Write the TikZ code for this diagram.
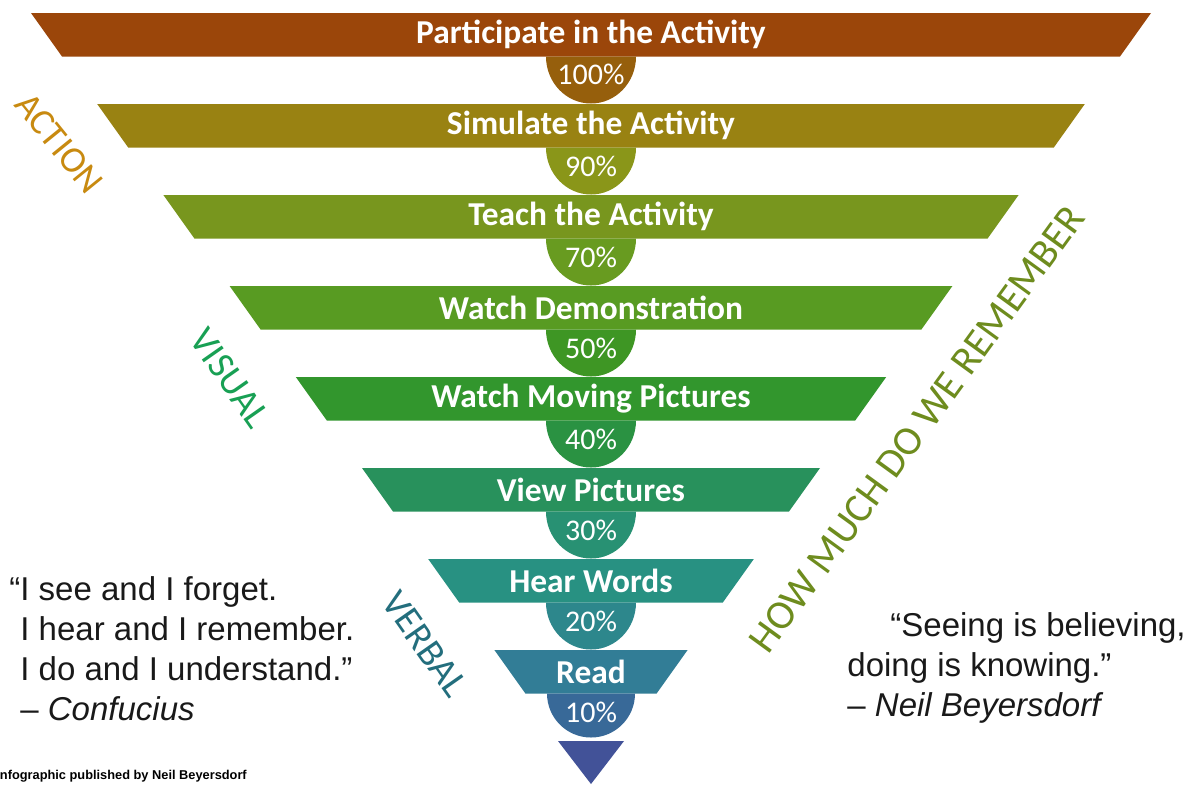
\documentclass[tikz,border=0pt]{standalone}
\usepackage{fontspec}
\setmainfont{Carlito}
\newfontfamily\quotefont{Liberation Sans}
\usetikzlibrary{positioning}

% colours of the levels, top to bottom
\definecolor{lvlA}{RGB}{155,70,10}
\definecolor{pctA}{RGB}{150,95,12}
\definecolor{lvlB}{RGB}{153,130,18}
\definecolor{pctB}{RGB}{138,150,25}
\definecolor{lvlC}{RGB}{120,150,30}
\definecolor{pctC}{RGB}{104,155,32}
\definecolor{lvlD}{RGB}{88,155,34}
\definecolor{pctD}{RGB}{62,150,36}
\definecolor{lvlE}{RGB}{50,150,45}
\definecolor{pctE}{RGB}{42,146,66}
\definecolor{lvlF}{RGB}{40,145,92}
\definecolor{pctF}{RGB}{40,145,115}
\definecolor{lvlG}{RGB}{40,145,130}
\definecolor{pctG}{RGB}{45,135,140}
\definecolor{lvlH}{RGB}{50,125,150}
\definecolor{pctH}{RGB}{56,105,152}
\definecolor{tipcol}{RGB}{66,82,152}
\definecolor{actioncol}{RGB}{200,138,16}
\definecolor{visualcol}{RGB}{24,160,84}
\definecolor{verbalcol}{RGB}{35,110,125}
\definecolor{howcol}{RGB}{110,140,30}

\tikzstyle{steptext} = [text=white, font=\bfseries\fontsize{16.7}{18}\selectfont]
\tikzstyle{pcttext} = [text=white, font=\fontsize{15}{17}\selectfont]
\tikzstyle{sidelabel} = [font=\fontsize{19}{22}\selectfont]
\tikzstyle{quotebox} = [font=\quotefont\fontsize{16.5}{20}\selectfont, align=left, inner sep=0pt, text=black!90]

\begin{document}
\begin{tikzpicture}[x=0.5pt, y=-0.5pt]

	% page
	\fill[white] (0,0) rectangle (1192,784);
	\useasboundingbox (0,0) rectangle (1192,784);

	% Participate in the Activity
	\fill[lvlA] (31,13) -- (1151,13) -- (1120,56.5) -- (62,56.5) -- cycle;
	\fill[pctA] (546,56.5) arc[start angle=180, end angle=0, x radius=45, y radius=47] -- cycle;
	\node[steptext] (participate) at (591,34.75) {Participate in the Activity};
	\node[pcttext] (p100) at (591,74.5) {100\%};

	% Simulate the Activity
	\fill[lvlB] (97.2,104) -- (1084.8,104) -- (1053.8,147.5) -- (128.2,147.5) -- cycle;
	\fill[pctB] (546,147.5) arc[start angle=180, end angle=0, x radius=45, y radius=47] -- cycle;
	\node[steptext] (simulate) at (591,125.75) {Simulate the Activity};
	\node[pcttext] (p90) at (591,166.5) {90\%};

	% Teach the Activity
	\fill[lvlC] (163.4,195) -- (1018.6,195) -- (987.6,238.5) -- (194.4,238.5) -- cycle;
	\fill[pctC] (546,238.5) arc[start angle=180, end angle=0, x radius=45, y radius=47] -- cycle;
	\node[steptext] (teach) at (591,216.75) {Teach the Activity};
	\node[pcttext] (p70) at (591,257.5) {70\%};

	% Watch Demonstration
	\fill[lvlD] (229.6,286) -- (952.4,286) -- (921.4,329.5) -- (260.6,329.5) -- cycle;
	\fill[pctD] (546,329.5) arc[start angle=180, end angle=0, x radius=45, y radius=47] -- cycle;
	\node[steptext] (demo) at (591,307.75) {Watch Demonstration};
	\node[pcttext] (p50) at (591,348.5) {50\%};

	% Watch Moving Pictures
	\fill[lvlE] (295.8,377) -- (886.2,377) -- (855.2,420.5) -- (326.8,420.5) -- cycle;
	\fill[pctE] (546,420.5) arc[start angle=180, end angle=0, x radius=45, y radius=47] -- cycle;
	\node[steptext] (moving) at (591,398.75) {Watch Moving Pictures};
	\node[pcttext] (p40) at (591,439.5) {40\%};

	% View Pictures
	\fill[lvlF] (362,468) -- (820,468) -- (789,511.5) -- (393,511.5) -- cycle;
	\fill[pctF] (546,511.5) arc[start angle=180, end angle=0, x radius=45, y radius=47] -- cycle;
	\node[steptext] (view) at (591,489.75) {View Pictures};
	\node[pcttext] (p30) at (591,530.5) {30\%};

	% Hear Words
	\fill[lvlG] (428.2,559) -- (753.8,559) -- (722.8,602.5) -- (459.2,602.5) -- cycle;
	\fill[pctG] (546,602.5) arc[start angle=180, end angle=0, x radius=45, y radius=47] -- cycle;
	\node[steptext] (hear) at (591,580.75) {Hear Words};
	\node[pcttext] (p20) at (591,621.5) {20\%};

	% Read
	\fill[lvlH] (494.4,650) -- (687.6,650) -- (656.6,693.5) -- (525.4,693.5) -- cycle;
	\fill[pctH] (547,693.5) arc[start angle=180, end angle=0, x radius=44, y radius=44] -- cycle;
	\node[steptext] (read) at (591,671.75) {Read};
	\node[pcttext] (p10) at (591,712.5) {10\%};

	% tip of the funnel
	\fill[tipcol] (558,741) -- (624,741) -- (591,784) -- cycle;

	% side labels
	\node[sidelabel, text=actioncol, rotate=-51, font=\fontsize{18.5}{22}\selectfont] (action) at (59,143) {ACTION};
	\node[sidelabel, text=visualcol, rotate=-55] (visual) at (230,378) {VISUAL};
	\node[sidelabel, text=verbalcol, rotate=-55] (verbal) at (425,644) {VERBAL};
	\node[sidelabel, text=howcol, rotate=54, font=\fontsize{20.5}{24}\selectfont] (howmuch) at (917,429) {HOW MUCH DO WE REMEMBER};

	% quotes
	\node[quotebox, anchor=north west] (confucius) at (20,576)
		{\llap{“}I see and I forget.\\ I hear and I remember.\\ I do and I understand.”\\ – \textit{Confucius}};
	\node[quotebox, anchor=north west] (neil) at (847,612)
		{\hspace*{21.5pt}“Seeing is believing,\\ doing is knowing.”\\ – \textit{Neil Beyersdorf}};
	\node[font=\quotefont\bfseries\fontsize{6.4}{7}\selectfont, anchor=base west, inner sep=0pt] (credit) at (-4,779)
		{Infographic published by Neil Beyersdorf};

\end{tikzpicture}
\end{document}
